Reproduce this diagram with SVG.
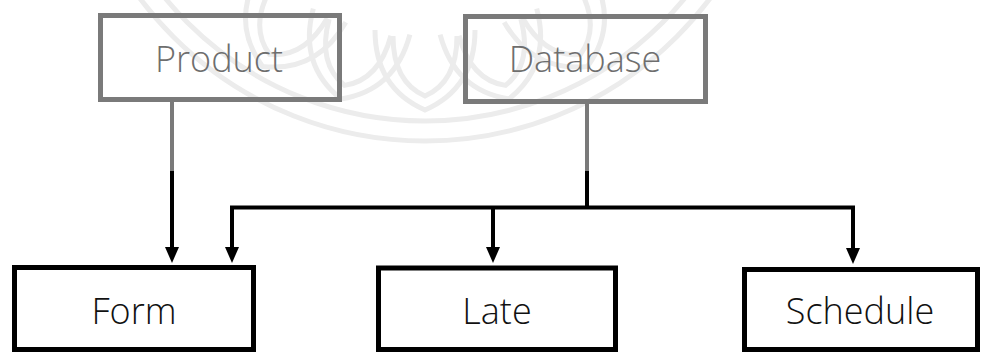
<svg xmlns="http://www.w3.org/2000/svg" width="981" height="354" viewBox="0 0 981 354">
  <defs>
    <!-- arrowhead: base sits on the line end, tip points along the line -->
    <marker id="arrow" markerWidth="16" markerHeight="14" refX="0" refY="7" orient="auto-start-reverse" markerUnits="userSpaceOnUse" viewBox="0 0 16 14" overflow="visible">
      <path d="M0,0 L16,7 L0,14 Z" fill="#000"/>
    </marker>
    <path id="petal" d="M-50,-80 Q-50,-22 0,0 Q50,-22 50,-80"/>
    <path id="petal-in" d="M-32,-74 Q-32,-28 0,-14 Q32,-28 32,-74"/>
  </defs>
  <style>
    .mark { fill: none; stroke: #ececec; stroke-width: 5; }
    .box-grey { fill: none; stroke: #7a7a7a; stroke-width: 5; }
    .box-black { fill: none; stroke: #000; stroke-width: 5; }
    .label { font-family: "Open Sans", "Liberation Sans", sans-serif; font-weight: 300; font-size: 36px; text-anchor: middle; }
    .label-grey { fill: #6e6e6e; }
    .label-black { fill: #111; }
    .wire-grey { fill: none; stroke: #7a7a7a; stroke-width: 4; }
    .wire { fill: none; stroke: #000; stroke-width: 4; }
  </style>

  <rect width="981" height="354" fill="#fff"/>

  <!-- faint emblem in the background -->
  <g id="emblem">
    <circle class="mark" cx="425" cy="-215" r="356" stroke-width="8"/>
    <circle class="mark" cx="425" cy="-215" r="336"/>
    <g class="mark">
      <use href="#petal" transform="rotate(-30 425 -215) translate(425 110)"/>
      <use href="#petal" transform="rotate(-15 425 -215) translate(425 110)"/>
      <use href="#petal" transform="translate(425 110)"/>
      <use href="#petal" transform="rotate(15 425 -215) translate(425 110)"/>
      <use href="#petal" transform="rotate(30 425 -215) translate(425 110)"/>
      <use href="#petal-in" transform="rotate(-30 425 -215) translate(425 110)"/>
      <use href="#petal-in" transform="rotate(-15 425 -215) translate(425 110)"/>
      <use href="#petal-in" transform="translate(425 110)"/>
      <use href="#petal-in" transform="rotate(15 425 -215) translate(425 110)"/>
      <use href="#petal-in" transform="rotate(30 425 -215) translate(425 110)"/>
    </g>
  </g>

  <!-- connectors -->
  <g id="connectors">
    <line class="wire-grey" x1="172" y1="101" x2="172" y2="172"/>
    <line class="wire" x1="172" y1="171" x2="172" y2="247" marker-end="url(#arrow)"/>
    <line class="wire-grey" x1="587" y1="103" x2="587" y2="172"/>
    <line class="wire" x1="587" y1="171" x2="587" y2="207.5"/>
    <path class="wire" d="M853,248 L853,207.5 L232,207.5 L232,247" marker-start="url(#arrow)" marker-end="url(#arrow)"/>
    <line class="wire" x1="493" y1="207.5" x2="493" y2="247" marker-end="url(#arrow)"/>
  </g>

  <g id="product">
    <rect class="box-grey" x="100.5" y="15.5" width="239" height="84"/>
    <text class="label label-grey" x="219" y="72">Product</text>
  </g>

  <g id="database">
    <rect class="box-grey" x="465.5" y="16.5" width="240" height="85"/>
    <text class="label label-grey" x="585" y="72">Database</text>
  </g>

  <g id="form">
    <rect class="box-black" x="14.5" y="267.5" width="239" height="82"/>
    <text class="label label-black" x="134" y="324">Form</text>
  </g>

  <g id="late">
    <rect class="box-black" x="378.5" y="268" width="237" height="81.5"/>
    <text class="label label-black" x="497" y="324">Late</text>
  </g>

  <g id="schedule">
    <rect class="box-black" x="744.5" y="269.5" width="233" height="80"/>
    <text class="label label-black" x="860" y="324">Schedule</text>
  </g>
</svg>
